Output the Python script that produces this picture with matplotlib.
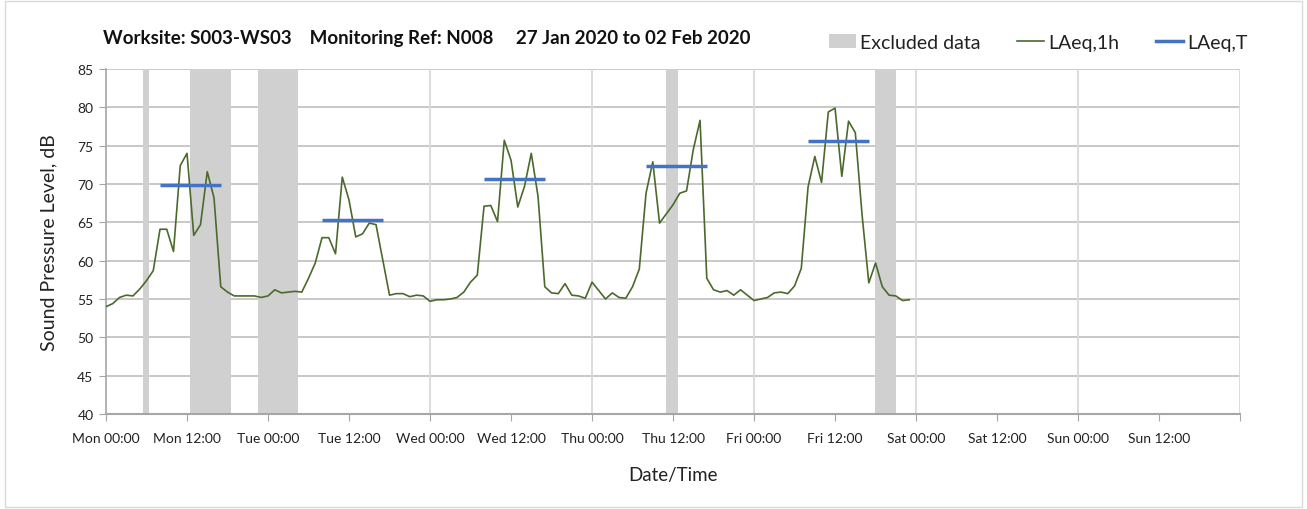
import matplotlib
matplotlib.use('Agg')
import matplotlib.pyplot as plt
from matplotlib.lines import Line2D
from matplotlib.patches import Patch, Rectangle
import numpy as np

plt.rcParams['font.family'] = ['Lato', 'DejaVu Sans']

# hourly LAeq,1h from Mon 00:00 to Fri 23:00
laeq_1h = [
    54.0, 54.4, 55.2, 55.5, 55.4, 56.3, 57.4, 58.7, 64.1, 64.1, 61.2, 72.4,
    74.0, 63.3, 64.7, 71.6, 68.2, 56.6, 55.9, 55.4, 55.4, 55.4, 55.4, 55.2,
    55.4, 56.2, 55.8, 55.9, 56.0, 55.9, 57.7, 59.7, 63.0, 63.0, 60.9, 70.9,
    67.9, 63.1, 63.5, 64.9, 64.7, 60.1, 55.5, 55.7, 55.7, 55.3, 55.5, 55.4,
    54.7, 54.9, 54.9, 55.0, 55.2, 55.9, 57.2, 58.1, 67.1, 67.2, 65.1, 75.7,
    73.1, 67.0, 69.7, 74.0, 68.4, 56.6, 55.8, 55.7, 57.0, 55.5, 55.4, 55.1,
    57.2, 56.1, 55.0, 55.8, 55.2, 55.1, 56.6, 58.9, 68.8, 72.9, 64.9, 66.1,
    67.3, 68.8, 69.1, 74.5, 78.3, 57.7, 56.2, 55.9, 56.1, 55.5, 56.2, 55.5,
    54.8, 55.0, 55.2, 55.8, 55.9, 55.7, 56.7, 59.0, 69.6, 73.6, 70.2, 79.4,
    79.9, 71.0, 78.2, 76.7, 66.0, 57.1, 59.7, 56.6, 55.5, 55.4, 54.8, 54.9,
]
hours = np.arange(len(laeq_1h))

# LAeq,T per working day (08:00 - 17:00)
period_start = [8, 32, 56, 80, 104]
period_end = [17, 41, 65, 89, 113]
laeq_t = [69.9, 65.3, 70.7, 72.4, 75.6]

# excluded periods, hours from Mon 00:00
excl_start = [5.55, 12.45, 22.55, 82.9, 113.9]
excl_end = [6.4, 18.45, 28.5, 84.8, 117.0]

days = ['Mon', 'Tue', 'Wed', 'Thu', 'Fri', 'Sat', 'Sun']
tick_labels = [f'{d} {t}' for d in days for t in ('00:00', '12:00')] + ['']

GREEN = '#4a6a2c'
BLUE = '#4472c4'
SHADE = '#d0d0d0'

fig = plt.figure(figsize=(13.07, 5.10), dpi=100)
ax = fig.add_axes([0.0811, 0.1863, 0.8677, 0.6764])

for s, e in zip(excl_start, excl_end):
    ax.axvspan(s, e, color=SHADE, lw=0, zorder=1)

ax.plot(hours, laeq_1h, color=GREEN, lw=1.2, zorder=3)
ax.hlines(laeq_t, period_start, period_end, color=BLUE, lw=2.5, zorder=4)

ax.set_xlim(0, 168)
ax.set_ylim(40, 85)
ax.set_yticks(np.arange(40, 86, 5))
ax.set_xticks(np.arange(0, 169, 12))
ax.set_xticklabels(tick_labels)

ax.grid(False)
for y in np.arange(45, 86, 5):
    ax.axhline(y, color='#c4c4c4', lw=1.3, zorder=0)
for x in np.arange(24, 169, 24):
    ax.axvline(x, color='#d9d9d9', lw=1.3, zorder=0)

for side in ['top', 'right']:
    ax.spines[side].set_visible(False)
ax.spines['left'].set_color('#a6a6a6')
ax.spines['bottom'].set_color('#a6a6a6')
ax.spines['left'].set_linewidth(1.2)
ax.spines['bottom'].set_linewidth(1.5)
ax.tick_params(axis='x', direction='out', length=5, color='#a6a6a6',
               labelsize=10, pad=8, labelcolor='#222222')
ax.tick_params(axis='y', direction='out', length=5, color='#a6a6a6',
               labelsize=10, pad=4, labelcolor='#222222')

ax.set_xlabel('Date/Time', fontsize=13.5, labelpad=16, color='#222222')
ax.set_ylabel('Sound Pressure Level, dB', fontsize=14, labelpad=14, color='#222222')

fig.text(0.079, 0.925,
         'Worksite: S003-WS03    Monitoring Ref: N008     27 Jan 2020 to 02 Feb 2020',
         fontsize=13.5, fontweight='bold', ha='left', va='center', color='#111111')

handles = [
    Patch(facecolor=SHADE, edgecolor='none', label='Excluded data'),
    Line2D([], [], color=GREEN, lw=1.2, label='LAeq,1h'),
    Line2D([], [], color=BLUE, lw=2.5, label='LAeq,T'),
]
fig.legend(handles=handles, loc='center right', bbox_to_anchor=(0.962, 0.915),
           ncol=3, frameon=False, fontsize=14, handlelength=1.4,
           handletextpad=0.2, columnspacing=1.9, borderpad=0, labelcolor='#222222')

fig.patches.append(Rectangle((0.004, 0.004), 0.992, 0.992, transform=fig.transFigure,
                             fill=False, edgecolor='#d9d9d9', lw=1))

fig.savefig('out.png', dpi=100)
